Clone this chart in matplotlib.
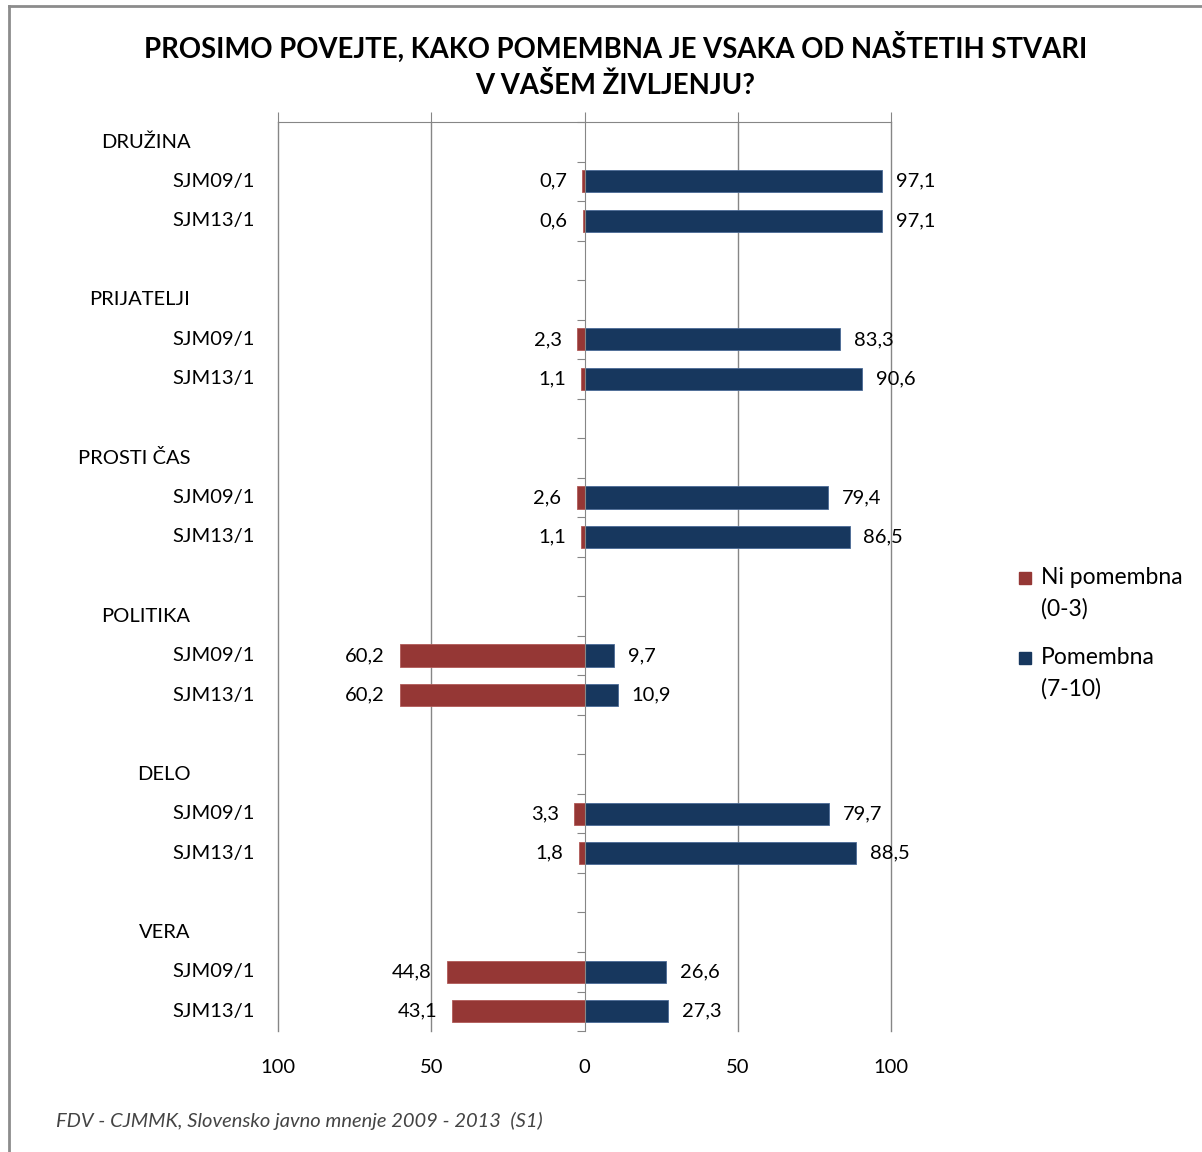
import numpy as np
import matplotlib.pyplot as plt
from matplotlib.patches import Rectangle
from matplotlib.lines import Line2D

# Data
groups = ['DRUŽINA', 'PRIJATELJI', 'PROSTI ČAS', 'POLITIKA', 'DELO', 'VERA']
waves = ['SJM09/1', 'SJM13/1']
ni_pomembna_09 = [0.7, 2.3, 2.6, 60.2, 3.3, 44.8]
ni_pomembna_13 = [0.6, 1.1, 1.1, 60.2, 1.8, 43.1]
pomembna_09 = [97.1, 83.3, 79.4, 9.7, 79.7, 26.6]
pomembna_13 = [97.1, 90.6, 86.5, 10.9, 88.5, 27.3]
x_ticks = [-100, -50, 0, 50, 100]
x_tick_labels = ['100', '50', '0', '50', '100']
legend_labels = [('Ni pomembna', '(0-3)'), ('Pomembna', '(7-10)')]

RED = '#953735'
BLUE = '#17375E'
GRID = '#868686'
FONT = 'Lato'

plt.rcParams['font.family'] = [FONT, 'DejaVu Sans']

W, H = 1202, 1152
fig = plt.figure(figsize=(W / 100, H / 100), dpi=100)
ax = fig.add_axes([0.2313, 0.1050, 0.5100, 0.7891])

# Row layout: header, wave 1, wave 2, blank
n_rows = len(groups) * 4 - 1
ax.set_ylim(n_rows - 0.5, -0.5)
ax.set_xlim(-100, 100)

fmt = lambda v: f'{v:.1f}'.replace('.', ',')
trans = ax.get_yaxis_transform()

for g, name in enumerate(groups):
    base = g * 4
    ax.text(-0.1428, base, name, transform=trans, ha='right', va='center',
            fontsize=14.5, color='black')
    neg = [ni_pomembna_09[g], ni_pomembna_13[g]]
    pos = [pomembna_09[g], pomembna_13[g]]
    for k in range(2):
        y = base + 1 + k
        ax.text(-0.0375, y, waves[k], transform=trans, ha='right', va='center',
                fontsize=14.5, color='black')
        ax.barh(y, -neg[k], height=0.56, color=RED, edgecolor='#b05a58', linewidth=0.6, zorder=3)
        ax.barh(y, pos[k], height=0.56, color=BLUE, edgecolor='#4a6a96', linewidth=0.6, zorder=3)
        ax.text(-neg[k] - 5, y, fmt(neg[k]), ha='right', va='center', fontsize=14.5, zorder=4)
        ax.text(pos[k] + 4.5, y, fmt(pos[k]), ha='left', va='center', fontsize=14.5, zorder=4)

# Gridlines
for xv in [-100, -50, 50, 100]:
    ax.axvline(xv, color=GRID, linewidth=1.0, zorder=1, clip_on=False)

# Spines
for s in ['right', 'bottom']:
    ax.spines[s].set_visible(False)
ax.spines['top'].set_color(GRID)
ax.spines['left'].set_color(GRID)
ax.spines['left'].set_position(('data', 0))
ax.spines['left'].set_zorder(5)

ax.set_xticks(x_ticks)
ax.set_xticklabels(x_tick_labels, fontsize=14.5)
ax.tick_params(axis='x', top=True, bottom=False, labeltop=False, labelbottom=True,
               direction='out', length=7, color=GRID, pad=13)
ax.set_yticks(np.arange(-0.5, n_rows, 1.0))
ax.set_yticklabels([])
ax.tick_params(axis='y', left=True, direction='out', length=6, color=GRID)

# Title
fig.text(0.512, 1 - 47 / H, 'PROSIMO POVEJTE, KAKO POMEMBNA JE VSAKA OD NAŠTETIH STVARI',
         ha='center', va='center', fontsize=19.8, fontweight='bold')
fig.text(0.512, 1 - 85 / H, 'V VAŠEM ŽIVLJENJU?', ha='center', va='center',
         fontsize=19.8, fontweight='bold')

# Legend (drawn by hand to keep the Excel layout)
colors = [RED, BLUE]
for i, (l1, l2) in enumerate(legend_labels):
    y1 = 578 + i * 80
    fig.add_artist(Rectangle((1019 / W, 1 - (y1 + 6) / H), 12 / W, 12 / H,
                             transform=fig.transFigure, color=colors[i]))
    fig.text(1041 / W, 1 - y1 / H, l1, ha='left', va='center', fontsize=16.5)
    fig.text(1041 / W, 1 - (y1 + 31) / H, l2, ha='left', va='center', fontsize=16.5)

# Source
fig.text(0.047, 1 - 1121 / H, 'FDV - CJMMK, Slovensko javno mnenje 2009 - 2013  (S1)',
         ha='left', va='center', fontsize=14.5, style='italic', color='#444444')

# Frame
fig.add_artist(Line2D([0.0075, 0.0075], [0, 0.9948], transform=fig.transFigure,
                      color='#8c8c8c', linewidth=2))
fig.add_artist(Line2D([0.0075, 1.0], [0.9948, 0.9948], transform=fig.transFigure,
                      color='#8c8c8c', linewidth=2))

fig.savefig('out.png', dpi=100)
